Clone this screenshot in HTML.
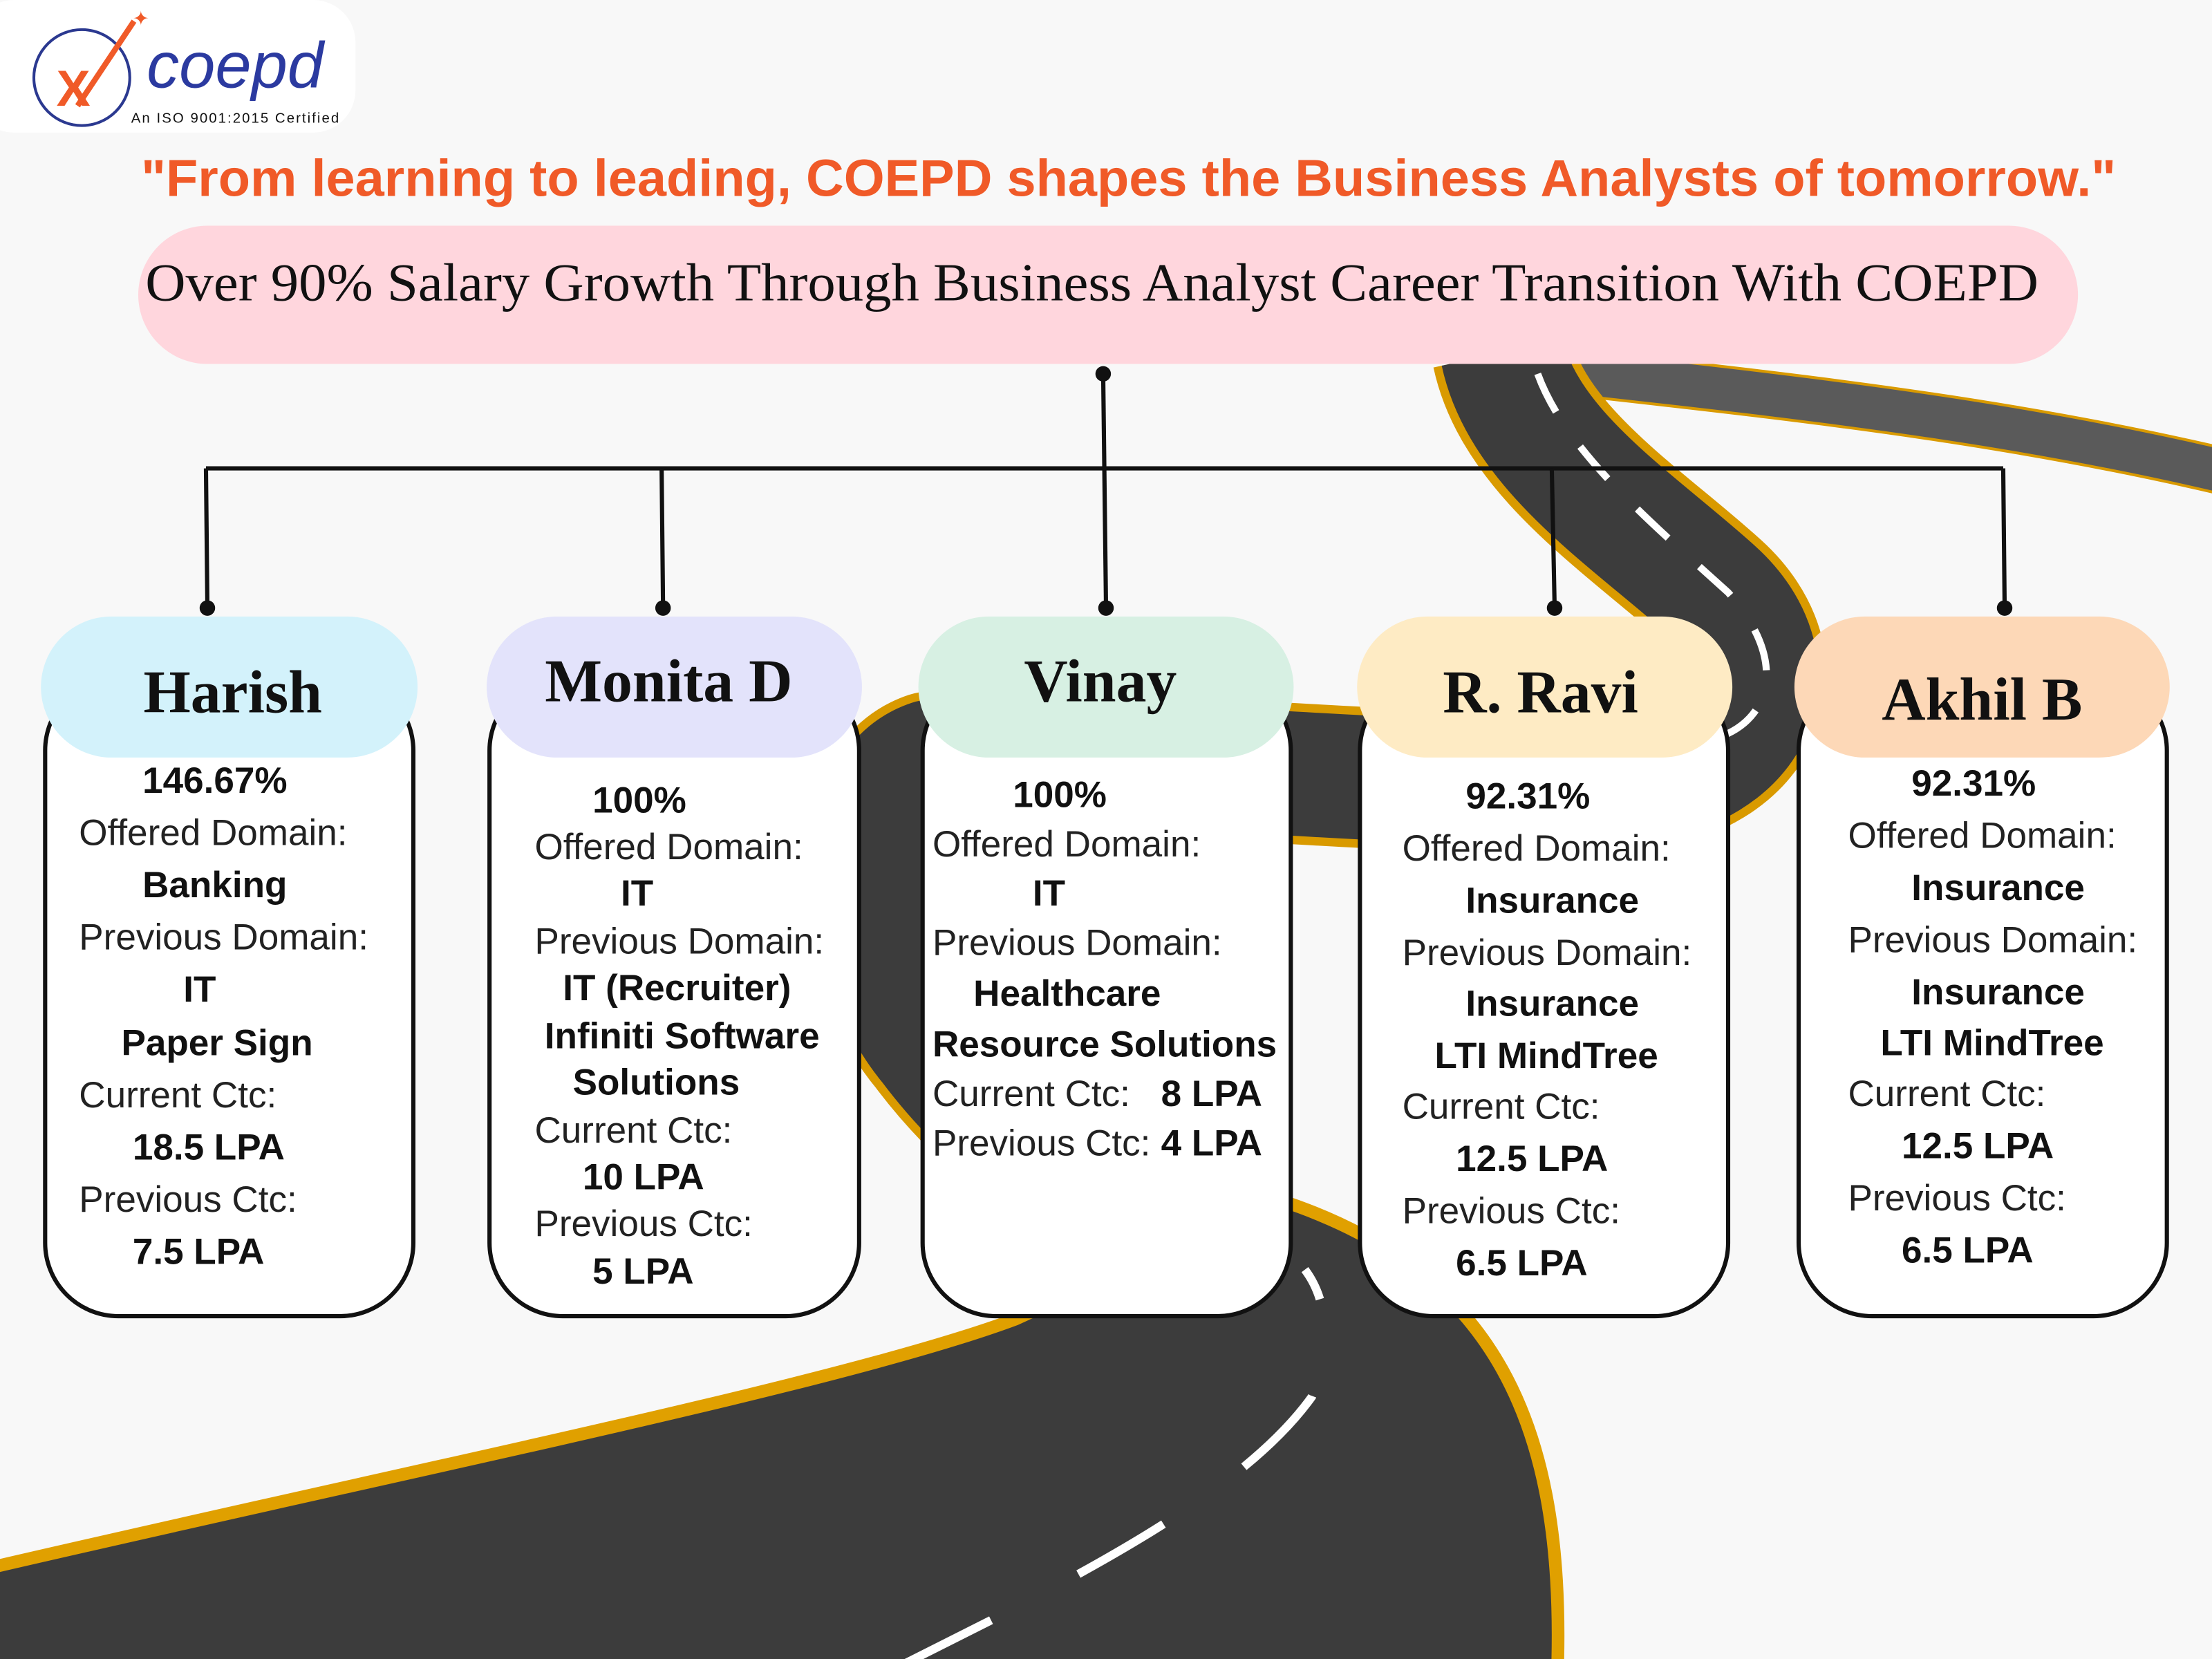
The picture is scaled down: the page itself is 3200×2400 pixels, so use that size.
<!DOCTYPE html>
<html><head><meta charset="utf-8"><style>
html,body{margin:0;padding:0;background:#f8f8f8;}
svg{display:block}
.b{font-family:"Liberation Sans",sans-serif;font-weight:bold;font-size:26px;fill:#111}
.n{font-family:"Liberation Sans",sans-serif;font-size:26px;fill:#222}
.h{font-family:"Liberation Serif",serif;font-weight:bold;font-size:43px;fill:#111}
</style></head><body>
<svg width="3200" height="2400" viewBox="0 0 1568 1176" xmlns="http://www.w3.org/2000/svg">
<rect width="1568" height="1176" fill="#f8f8f8"/>
<!-- roads -->
<g fill="none" stroke-linecap="butt" stroke-linejoin="round">
 <path d="M1040 255 C1200 275 1400 290 1600 340" stroke="#d99a00" stroke-width="34"/>
 <path d="M1040 255 C1200 275 1400 290 1600 340" stroke="#5a5a5a" stroke-width="30"/>
 <path d="M1065 250 C1080 320 1160 370 1215 420 C1270 470 1250 545 1150 555 C1000 560 800 535 660 540 C600 560 610 680 660 740 C720 820 800 860 900 900" stroke="#d99a00" stroke-width="100"/>
 <path d="M1065 250 C1080 320 1160 370 1215 420 C1270 470 1250 545 1150 555 C1000 560 800 535 660 540 C600 560 610 680 660 740 C720 820 800 860 900 900" stroke="#3c3c3c" stroke-width="88"/>
</g>
<path d="M-10 1112 C300 1040 600 980 720 935 L905 850 C1060 900 1110 1010 1104 1186 L-10 1186 Z" fill="#3c3c3c" stroke="#e0a000" stroke-width="9"/>
<g fill="none">
 <path d="M1090 265 C1110 320 1170 370 1225 420 C1270 470 1255 515 1210 525" stroke="#fff" stroke-width="5" stroke-dasharray="30 30"/>
 <path d="M640 1180 C760 1120 880 1060 930 990 C945 950 940 920 925 900" stroke="#fff" stroke-width="6" stroke-dasharray="70 70"/>
</g>
<!-- logo -->
<rect x="-20" y="0" width="272" height="94" rx="30" fill="#fff"/>
<circle cx="58" cy="55" r="34" fill="none" stroke="#2b3990" stroke-width="2"/>
<text x="40" y="75" font-family="Liberation Sans,sans-serif" font-weight="bold" font-size="36" fill="#f05a28">X</text>
<path d="M55 75 L95 15" stroke="#f05a28" stroke-width="4"/>
<text x="94" y="18" font-size="14" fill="#f05a28" font-family="Liberation Sans,sans-serif">✦</text>
<text x="104" y="62" font-family="Liberation Sans,sans-serif" font-style="italic" font-size="46" fill="#2b3aa0">coepd</text>
<text x="93" y="87" font-family="Liberation Sans,sans-serif" font-size="10" fill="#111" letter-spacing="1">An ISO 9001:2015 Certified</text>
<!-- title -->
<text x="100" y="139" textLength="1400" lengthAdjust="spacingAndGlyphs" font-family="Liberation Sans,sans-serif" font-weight="bold" font-size="37" fill="#f05a28">"From learning to leading, COEPD shapes the Business Analysts of tomorrow."</text>
<rect x="98" y="160" width="1375" height="98" rx="49" fill="#ffd6dd"/>
<text x="103" y="213" textLength="1342" lengthAdjust="spacingAndGlyphs" font-family="Liberation Serif,serif" font-size="38" fill="#111">Over 90% Salary Growth Through Business Analyst Career Transition With COEPD</text>
<!-- connectors -->
<g stroke="#111" stroke-width="3" fill="none">
<path d="M782 265 L784 430"/>
<path d="M146 332 L1420 332"/>
<path d="M146 332 L147 430 M469 332 L470 430 M1100 332 L1102 430 M1420 332 L1421 430"/>
</g>
<g fill="#111"><circle cx="782" cy="265" r="5.5"/><circle cx="147" cy="431" r="5.5"/><circle cx="470" cy="431" r="5.5"/><circle cx="784" cy="431" r="5.5"/><circle cx="1102" cy="431" r="5.5"/><circle cx="1421" cy="431" r="5.5"/></g>
<!-- cards -->
<g fill="#fff" stroke="#111" stroke-width="3">
<rect x="32" y="480" width="261" height="453" rx="52"/>
<rect x="347" y="480" width="262" height="453" rx="52"/>
<rect x="654" y="480" width="261" height="453" rx="52"/>
<rect x="964" y="480" width="261" height="453" rx="52"/>
<rect x="1275" y="480" width="261" height="453" rx="52"/>
</g>
<rect x="29" y="437" width="267" height="100" rx="50" fill="#d3f2fb"/>
<rect x="345" y="437" width="266" height="100" rx="50" fill="#e3e3fb"/>
<rect x="651" y="437" width="266" height="100" rx="50" fill="#d7f0e3"/>
<rect x="962" y="437" width="266" height="100" rx="50" fill="#feebc4"/>
<rect x="1272" y="437" width="266" height="100" rx="50" fill="#fdd8b7"/>
<text class="h" x="165" y="505" text-anchor="middle">Harish</text>
<text class="h" x="474" y="497" text-anchor="middle">Monita D</text>
<text class="h" x="780" y="497" text-anchor="middle">Vinay</text>
<text class="h" x="1092" y="505" text-anchor="middle">R. Ravi</text>
<text class="h" x="1405" y="510" text-anchor="middle">Akhil B</text>
<!-- Harish -->
<text class="b" x="101" y="562">146.67%</text>
<text class="n" x="56" y="599">Offered Domain:</text>
<text class="b" x="101" y="636">Banking</text>
<text class="n" x="56" y="673">Previous Domain:</text>
<text class="b" x="130" y="710">IT</text>
<text class="b" x="86" y="748">Paper Sign</text>
<text class="n" x="56" y="785">Current Ctc:</text>
<text class="b" x="94" y="822">18.5 LPA</text>
<text class="n" x="56" y="859">Previous Ctc:</text>
<text class="b" x="94" y="896">7.5 LPA</text>
<!-- Monita -->
<text class="b" x="420" y="576" font-size="23">100%</text>
<text class="n" x="379" y="609" font-size="23">Offered Domain:</text>
<text class="b" x="440" y="642" font-size="23">IT</text>
<text class="n" x="379" y="676" font-size="23">Previous Domain:</text>
<text class="b" x="399" y="709" font-size="23">IT (Recruiter)</text>
<text class="b" x="386" y="743" font-size="23">Infiniti Software</text>
<text class="b" x="406" y="776" font-size="23">Solutions</text>
<text class="n" x="379" y="810" font-size="23">Current Ctc:</text>
<text class="b" x="413" y="843" font-size="23">10 LPA</text>
<text class="n" x="379" y="876" font-size="23">Previous Ctc:</text>
<text class="b" x="420" y="910" font-size="23">5 LPA</text>
<!-- Vinay -->
<text class="b" x="718" y="572" font-size="24.5">100%</text>
<text class="n" x="661" y="607" font-size="24.5">Offered Domain:</text>
<text class="b" x="732" y="642" font-size="24.5">IT</text>
<text class="n" x="661" y="677" font-size="24.5">Previous Domain:</text>
<text class="b" x="690" y="713" font-size="24.5">Healthcare</text>
<text class="b" x="661" y="749" font-size="24.5">Resource Solutions</text>
<text class="n" x="661" y="784" font-size="24.5">Current Ctc:</text>
<text class="b" x="823" y="784" font-size="24.5">8 LPA</text>
<text class="n" x="661" y="819" font-size="24.5">Previous Ctc:</text>
<text class="b" x="823" y="819" font-size="24.5">4 LPA</text>
<!-- Ravi -->
<text class="b" x="1039" y="573">92.31%</text>
<text class="n" x="994" y="610">Offered Domain:</text>
<text class="b" x="1039" y="647">Insurance</text>
<text class="n" x="994" y="684">Previous Domain:</text>
<text class="b" x="1039" y="720">Insurance</text>
<text class="b" x="1017" y="757">LTI MindTree</text>
<text class="n" x="994" y="793">Current Ctc:</text>
<text class="b" x="1032" y="830">12.5 LPA</text>
<text class="n" x="994" y="867">Previous Ctc:</text>
<text class="b" x="1032" y="904">6.5 LPA</text>
<!-- Akhil -->
<text class="b" x="1355" y="564">92.31%</text>
<text class="n" x="1310" y="601">Offered Domain:</text>
<text class="b" x="1355" y="638">Insurance</text>
<text class="n" x="1310" y="675">Previous Domain:</text>
<text class="b" x="1355" y="712">Insurance</text>
<text class="b" x="1333" y="748">LTI MindTree</text>
<text class="n" x="1310" y="784">Current Ctc:</text>
<text class="b" x="1348" y="821">12.5 LPA</text>
<text class="n" x="1310" y="858">Previous Ctc:</text>
<text class="b" x="1348" y="895">6.5 LPA</text>
</svg>
</body></html>
